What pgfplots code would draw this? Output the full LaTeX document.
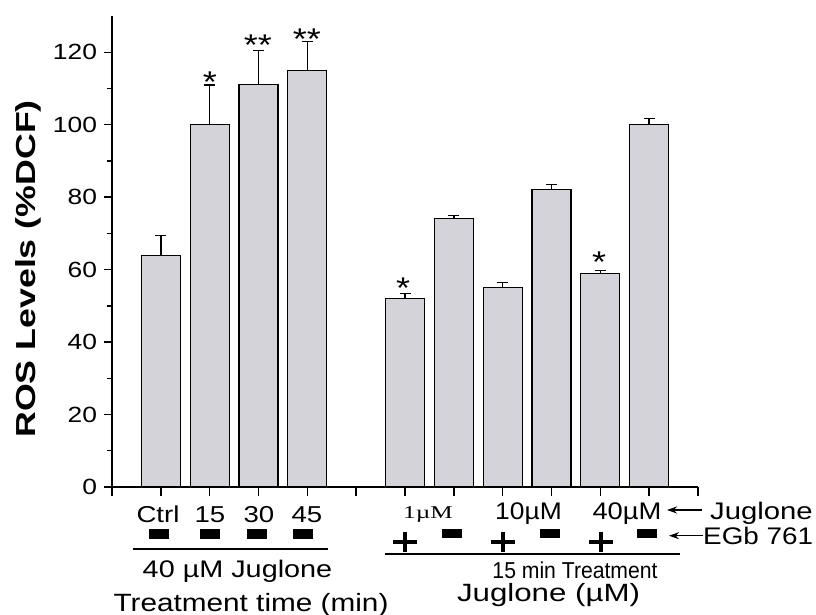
\documentclass[border=0pt]{standalone}
\usepackage{fontspec}
\setmainfont{Liberation Sans}
\newfontfamily\serifw{Liberation Serif}
\usepackage{pgfplots}
\usepackage{pgfplotstable}
\pgfplotsset{compat=1.18}
\usetikzlibrary{arrows.meta}
\definecolor{barfill}{RGB}{211,211,217}
\newcommand{\sx}[2]{\scalebox{#1}[1]{#2}}
\newcommand{\fs}[1]{\fontsize{#1}{#1}\selectfont}

\pgfplotstableread{
x y e
1 64 5.4
2 100 11
3 111 9.4
4 115 8
6 52 1.4
7 74 1
8 55 1.4
9 82 1.5
10 59 0.8
11 100 1.7
}\datatable

\begin{document}
\begin{tikzpicture}
\begin{axis}[
  anchor=south west, at={(0pt,0pt)},
  scale only axis, width=586pt, height=471pt,
  xmin=0, xmax=12, ymin=0, ymax=130,
  axis x line*=bottom, axis y line*=left,
  axis line style={line width=1.5pt, black},
  xtick={0,...,12}, xticklabels={},
  ytick={0,20,...,120}, minor ytick={10,30,...,110},
  tick align=outside, major tick length=8.5pt, minor tick length=5pt,
  tick style={black, line width=1.4pt},
  minor tick style={black, line width=1.4pt},
  tick label style={font=\fs{22}},
  yticklabel style={xshift=-3pt},
  /pgf/number format/assume math mode=true,
  yticklabel={\sx{1.2}{\pgfmathprintnumber{\tick}}},
  clip=false,
]
\addplot[ybar, bar width=39pt, fill=barfill, draw=black, line width=1.1pt,
  error bars/.cd, y dir=plus, y explicit,
  error bar style={line width=1.4pt, black},
  error mark options={rotate=90, mark size=5.5pt, line width=1.4pt, black}]
  table[x=x, y=y, y error=e] {\datatable};
\end{axis}

% significance stars
\begin{scope}[every node/.style={inner sep=0pt, font=\fs{30}}]
\node[anchor=base] at (98pt,394pt) {\sx{1.2}{*}};
\node[anchor=base] at (146pt,431pt) {\sx{1.2}{**}};
\node[anchor=base] at (195pt,437pt) {\sx{1.2}{**}};
\node[anchor=base] at (291pt,188pt) {\sx{1.2}{*}};
\node[anchor=base] at (487pt,214pt) {\sx{1.2}{*}};
\end{scope}

% y label
\node[rotate=90, anchor=base west, inner sep=0pt, font=\bfseries\fs{27.5}] at (-76pt,49pt) {\sx{1.3}{ROS Levels (\%DCF)}};

% left group annotations
\begin{scope}[every node/.style={inner sep=0pt}]
\node[anchor=base, font=\fs{23}] at (46pt,-35pt) {\sx{1.2}{Ctrl}};
\node[anchor=base, font=\fs{23}] at (98pt,-35pt) {\sx{1.2}{15}};
\node[anchor=base, font=\fs{23}] at (147pt,-35pt) {\sx{1.2}{30}};
\node[anchor=base, font=\fs{23}] at (195pt,-35pt) {\sx{1.2}{45}};
\node[anchor=base, font=\fs{24}] at (125.5pt,-90pt) {\sx{1.2}{40 µM Juglone}};
\node[anchor=base, font=\fs{25}] at (139pt,-124pt) {\sx{1.19}{Treatment time (min)}};
\end{scope}
\foreach \cx in {47,98,145,191} {
  \fill (\cx pt-10pt,-51.5pt) rectangle (\cx pt+10pt,-42.5pt);
}
\draw[line width=1.8pt] (21pt,-62pt) -- (216pt,-62pt);

% right group annotations
\begin{scope}[every node/.style={inner sep=0pt}]
\node[anchor=base, font=\serifw\fs{18}] at (316pt,-31pt) {\sx{1.4}{1µM}};
\node[anchor=base, font=\fs{24}] at (416.5pt,-33pt) {\sx{1.1}{10µM}};
\node[anchor=base, font=\fs{24}] at (515pt,-33pt) {\sx{1.14}{40µM}};
\node[anchor=base west, font=\fs{24}] at (598pt,-33pt) {\sx{1.22}{Juglone}};
\node[anchor=base west, font=\fs{24}] at (591pt,-57pt) {\sx{1.16}{EGb 761}};
\node[anchor=base, font=\fs{23}] at (463pt,-91pt) {\sx{0.92}{15 min Treatment}};
\node[anchor=base, font=\fs{25}] at (436.5pt,-114pt) {\sx{1.25}{Juglone (µM)}};
\end{scope}
\draw[line width=1.3pt, -{Stealth[length=10pt,width=7pt]}] (590pt,-23pt) -- (555pt,-23pt);
\draw[line width=1.3pt, -{Stealth[length=10pt,width=7pt]}] (591pt,-48.7pt) -- (557pt,-48.7pt);
\foreach \cx in {293,390.5,488.5} {
  \draw[line width=4pt] (\cx pt-12pt,-54.7pt) -- (\cx pt+12pt,-54.7pt);
  \draw[line width=4pt] (\cx pt,-44.7pt) -- (\cx pt,-64.7pt);
}
\foreach \cx in {340,438,535} {
  \fill (\cx pt-10pt,-51pt) rectangle (\cx pt+10pt,-42.5pt);
}
\draw[line width=1.8pt] (273pt,-67.3pt) -- (568pt,-67.3pt);

\pgfresetboundingbox
\path (-112pt,-128pt) rectangle (704pt,487pt);
\end{tikzpicture}
\end{document}
